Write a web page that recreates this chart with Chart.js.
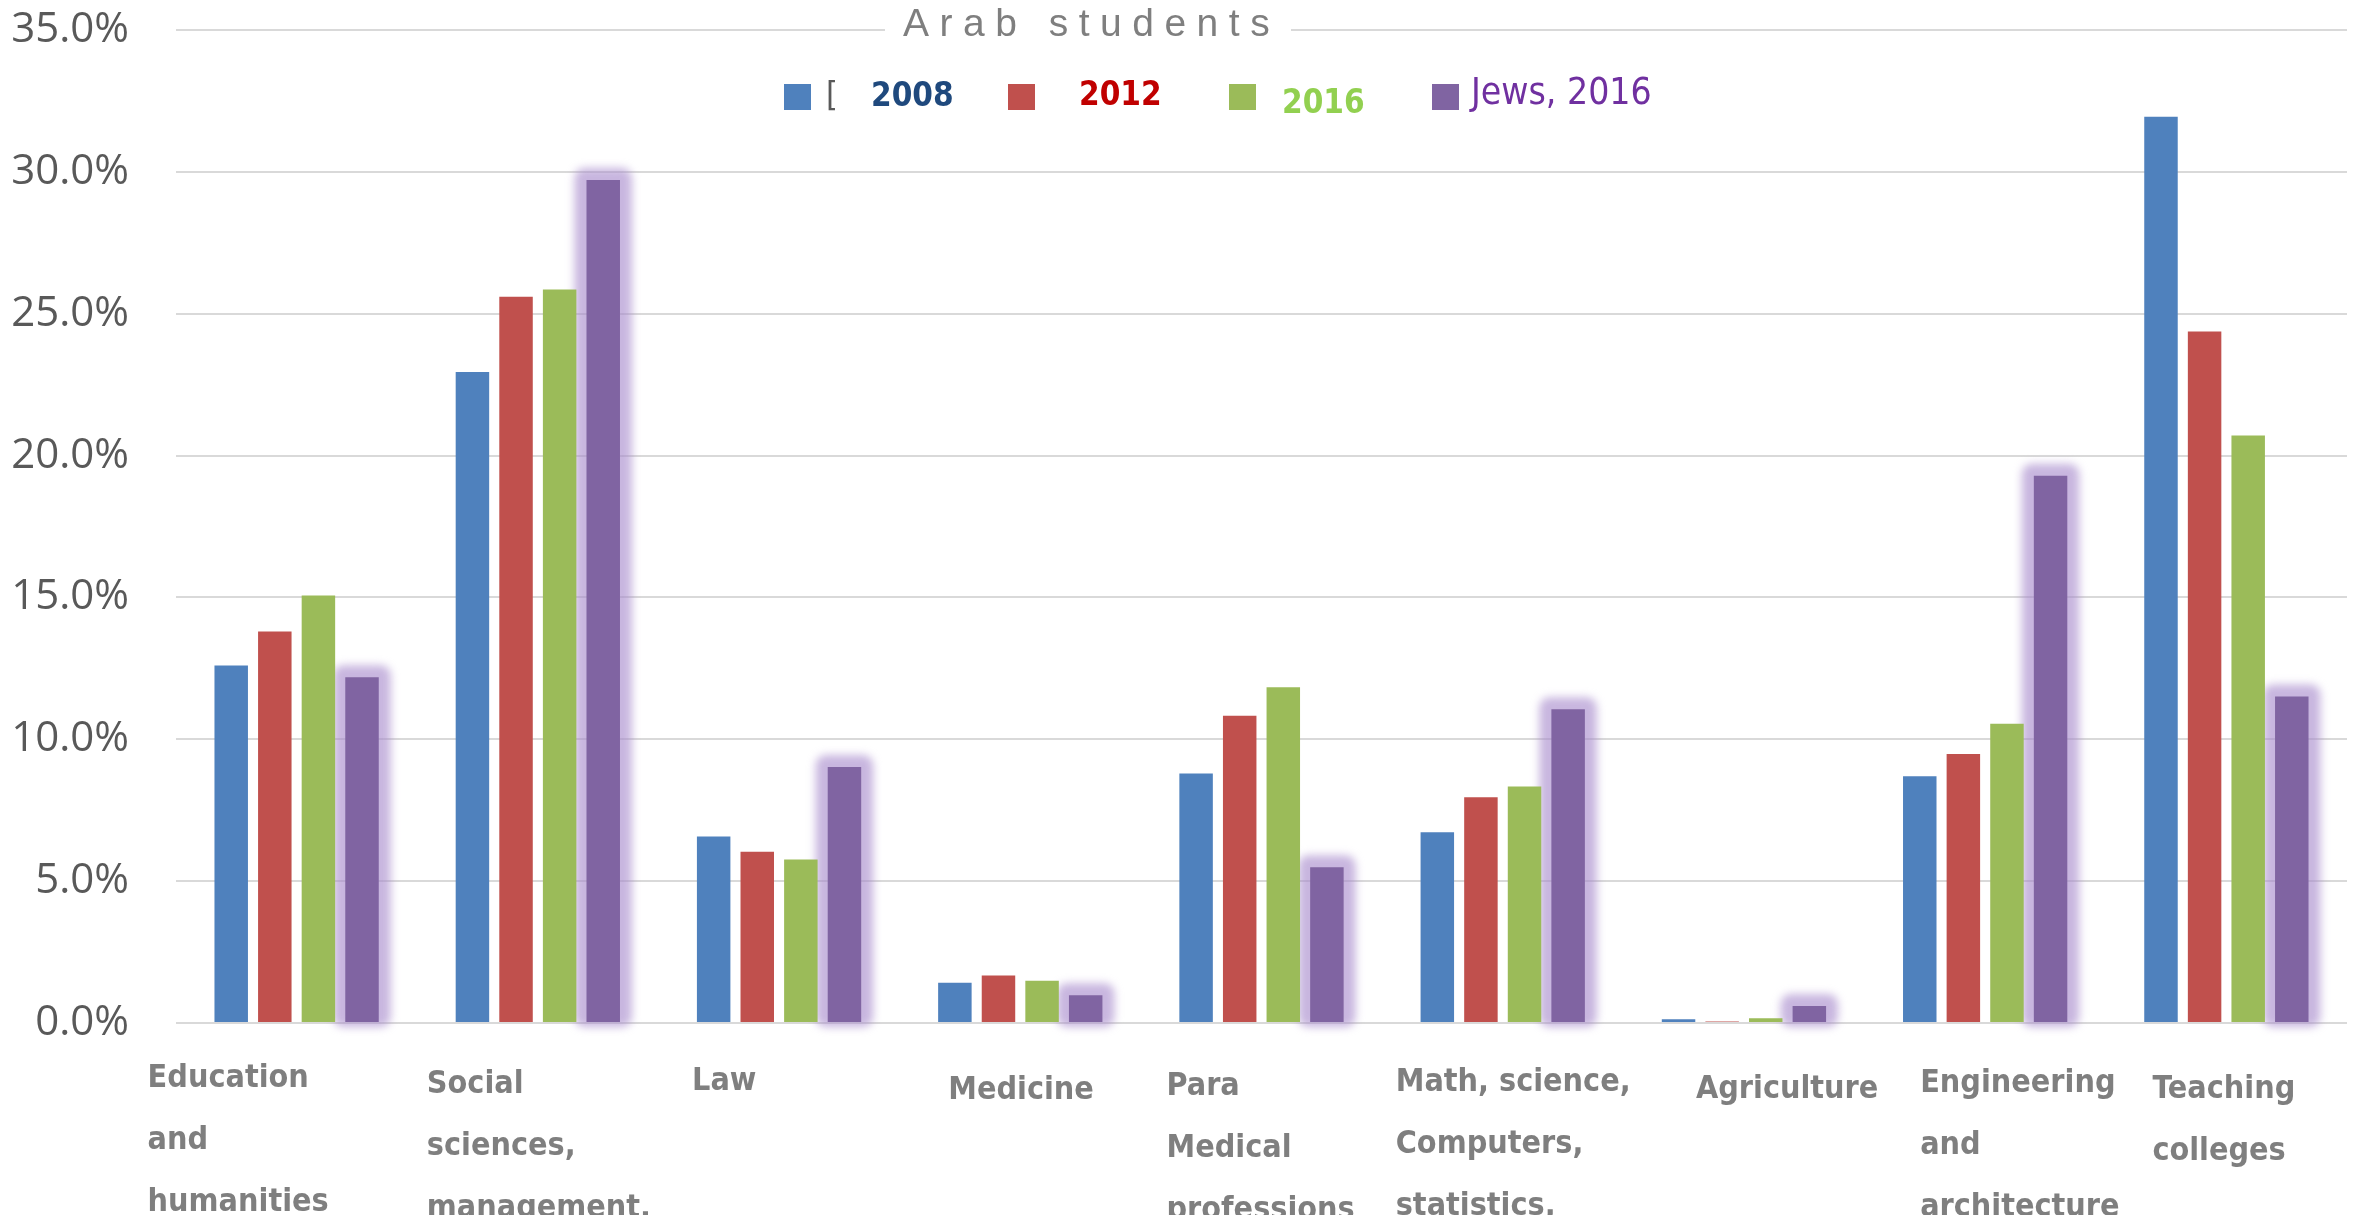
<!DOCTYPE html>
<html>
<head>
<meta charset="utf-8">
<script src="https://cdn.jsdelivr.net/npm/chart.js@4.4.1/dist/chart.umd.min.js"></script>
<style>
  html, body { margin: 0; padding: 0; background: #ffffff; }
  #wrap { width: 2359px; height: 1215px; position: relative; }
</style>
</head>
<body>
<div id="wrap"><canvas id="c"></canvas></div>
<script>
// ---------------- data ----------------
const categories = [
  ['Education', 'and', 'humanities'],
  ['Social', 'sciences,', 'management,'],
  ['Law'],
  ['Medicine'],
  ['Para', 'Medical', 'professions'],
  ['Math, science,', 'Computers,', 'statistics,'],
  ['Agriculture'],
  ['Engineering', 'and', 'architecture'],
  ['Teaching', 'colleges']
];
const arab2008 = [12.6, 22.95, 6.57, 1.42, 8.79, 6.72, 0.13, 8.70, 31.94];
const arab2012 = [13.8, 25.6, 6.04, 1.67, 10.83, 7.96, 0.05, 9.48, 24.37];
const arab2016 = [15.07, 25.85, 5.76, 1.49, 11.83, 8.34, 0.17, 10.55, 20.71];
const jews2016 = [12.19, 29.71, 9.02, 0.98, 5.49, 11.06, 0.6, 19.29, 11.51];
const seriesNames = ['2008', '2012', '2016', 'Jews, 2016'];
const yTicks = [0, 5, 10, 15, 20, 25, 30, 35];
const chartTitle = 'Arab students';

// ---------------- styles ----------------
const seriesColors = ['#4f81bd', '#c0504d', '#9bbb59', '#8064a2'];
const COND = "'DejaVu Sans Condensed', 'DejaVu Sans', sans-serif";
// per-category label placement (px relative to category centre / axis line)
const labelShift = [-149, -111, -87, -72, -95, -107, -48, -65, -74];
const labelDrop = [56, 62, 59, 68, 64, 60, 67, 61, 67];
const labelLineGap = 62;

// soft halo behind the Jews bars
const glowPlugin = {
  id: 'glow',
  beforeDatasetDraw(chart, args) {
    if (args.index !== 3) return;
    const c = chart.ctx;
    c.save();
    c.filter = 'blur(4px)';
    c.fillStyle = 'rgba(167,137,203,0.62)';
    args.meta.data.forEach(el => {
      const p = el.getProps(['x', 'y', 'base', 'width'], true);
      const l = p.x - p.width / 2 - 12, r = p.x + p.width / 2 + 12;
      const t = p.y - 12, b = p.base + 5;
      c.beginPath();
      if (c.roundRect) c.roundRect(l, t, r - l, b - t, 10); else c.rect(l, t, r - l, b - t);
      c.fill();
    });
    c.restore();
  }
};

// category labels under the axis, placed from the x scale
const xLabelPlugin = {
  id: 'xlabels',
  afterDraw(chart) {
    const xs = chart.scales.x;
    const c = chart.ctx;
    c.save();
    c.font = 'bold 32px ' + COND;
    c.fillStyle = '#7f7f7f';
    c.textAlign = 'left';
    c.textBaseline = 'middle';
    categories.forEach((lines, i) => {
      const x0 = xs.getPixelForValue(i) + labelShift[i];
      lines.forEach((ln, j) => c.fillText(ln, x0, xs.top + labelDrop[i] + j * labelLineGap));
    });
    c.restore();
  }
};

// title + legend drawn on the canvas
const headerPlugin = {
  id: 'header',
  afterDraw(chart) {
    const c = chart.ctx;
    c.save();
    c.fillStyle = '#ffffff';
    c.fillRect(885, 0, 406, 46);
    c.font = "39px 'Liberation Sans Narrow', 'Liberation Sans', sans-serif";
    c.fillStyle = '#7f7f7f';
    c.textBaseline = 'alphabetic';
    c.textAlign = 'left';
    let x = 903;
    for (const ch of chartTitle) {
      c.fillText(ch, x, 36);
      x += c.measureText(ch).width + 10.5;
    }
    const items = [
      { box: 784, text: seriesNames[0], tx: 871, ty: 97, color: '#1f497d', weight: 'bold', size: 33 },
      { box: 1008, text: seriesNames[1], tx: 1079, ty: 96, color: '#c00000', weight: 'bold', size: 33 },
      { box: 1229, text: seriesNames[2], tx: 1282, ty: 104, color: '#92d050', weight: 'bold', size: 33 },
      { box: 1432, text: seriesNames[3], tx: 1471, ty: 94, color: '#7030a0', weight: 'normal', size: 37 }
    ];
    c.textBaseline = 'middle';
    items.forEach((it, i) => {
      c.fillStyle = seriesColors[i];
      c.fillRect(it.box, 84, 27, 26);
      c.fillStyle = it.color;
      c.font = it.weight + ' ' + it.size + 'px ' + COND;
      c.fillText(it.text, it.tx, it.ty);
    });
    c.fillStyle = '#595959';
    c.font = '34px ' + COND;
    c.fillText('[', 826, 97);
    c.restore();
  }
};

const ctx = document.getElementById('c').getContext('2d');
new Chart(ctx, {
  type: 'bar',
  data: {
    labels: categories,
    datasets: [
      { label: seriesNames[0], data: arab2008, backgroundColor: seriesColors[0] },
      { label: seriesNames[1], data: arab2012, backgroundColor: seriesColors[1] },
      { label: seriesNames[2], data: arab2016, backgroundColor: seriesColors[2] },
      { label: seriesNames[3], data: jews2016, backgroundColor: seriesColors[3], clip: false }
    ]
  },
  options: {
    responsive: true,
    maintainAspectRatio: false,
    animation: false,
    layout: { padding: { left: 0, right: 12, top: 30, bottom: 0 } },
    datasets: { bar: { categoryPercentage: 0.723, barPercentage: 0.768 } },
    plugins: {
      legend: { display: false },
      title: { display: false },
      tooltip: { enabled: false }
    },
    scales: {
      x: {
        grid: { display: false },
        border: { display: false },
        ticks: { display: false },
        afterFit(s) { s.height = 192; s.paddingLeft = 0; s.paddingRight = 0; }
      },
      y: {
        min: 0, max: 35,
        grid: { color: '#d9d9d9', lineWidth: 2, drawTicks: false },
        border: { display: false },
        ticks: {
          padding: 47,
          color: '#595959',
          font: { family: "'Open Sans', sans-serif", size: 42 },
          callback: v => Number(v).toFixed(1) + '%'
        },
        afterBuildTicks(s) { s.ticks = yTicks.map(v => ({ value: v })); },
        afterFit(s) { s.width = 176; s.paddingTop = 0; s.paddingBottom = 0; }
      }
    }
  },
  plugins: [glowPlugin, xLabelPlugin, headerPlugin]
});
</script>
</body>
</html>
